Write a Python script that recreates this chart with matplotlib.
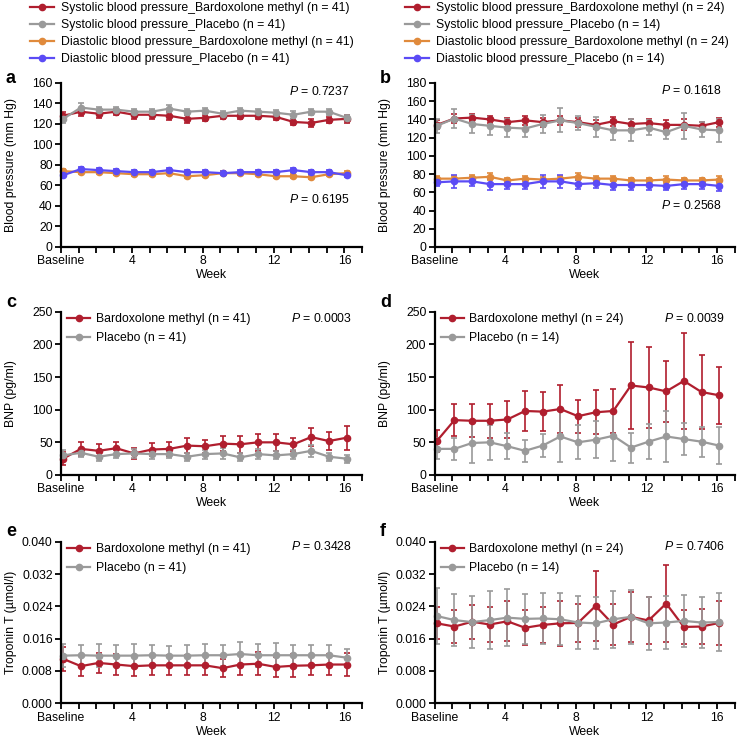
import matplotlib
matplotlib.use("Agg")
import matplotlib.pyplot as plt
from matplotlib.ticker import FixedLocator, MultipleLocator, FormatStrFormatter

plt.rcParams["font.family"] = ["Liberation Sans", "DejaVu Sans"]
plt.rcParams["font.size"] = 8.8
plt.rcParams["mathtext.fontset"] = "custom"
plt.rcParams["mathtext.it"] = "Liberation Sans:italic"
plt.rcParams["mathtext.rm"] = "Liberation Sans"

# Weeks (baseline = 0)
weeks = list(range(17))
tick_weeks = [0, 4, 8, 12, 16]
tick_labels = ["Baseline", "4", "8", "12", "16"]

RED = "#b01e2e"
GRAY = "#9a9a9a"
ORANGE = "#e08a3c"
PURPLE = "#5b4bf5"

# Panel a: blood pressure, full population
a_sys_bard = [128, 132, 130, 132, 129, 129, 128, 125, 126, 128, 128, 128, 127, 122, 121, 124, 125]
a_sys_bard_err = [4, 4, 4, 3, 4, 4, 4, 4, 3, 3, 3, 3, 3, 3, 4, 3, 4]
a_sys_plac = [125, 136, 134, 134, 132, 132, 135, 132, 133, 130, 133, 132, 131, 129, 132, 132, 126]
a_sys_plac_err = [4, 4, 3, 3, 3, 3, 4, 3, 3, 3, 3, 3, 3, 4, 3, 3, 3]
a_dia_bard = [74, 73, 73, 72, 71, 71, 72, 69, 70, 72, 72, 71, 69, 69, 68, 71, 72]
a_dia_bard_err = [2, 2, 2, 2, 2, 2, 2, 2, 2, 2, 2, 2, 2, 2, 2, 2, 2]
a_dia_plac = [70, 76, 75, 74, 73, 73, 75, 73, 73, 72, 73, 73, 73, 75, 73, 73, 70]
a_dia_plac_err = [2, 2, 2, 2, 2, 2, 2, 2, 2, 2, 2, 2, 2, 2, 2, 2, 2]

# Panel b: blood pressure, subgroup
b_sys_bard = [134, 141, 142, 140, 137, 139, 137, 139, 137, 134, 138, 135, 136, 134, 134, 133, 137]
b_sys_bard_err = [5, 5, 4, 4, 5, 5, 5, 5, 5, 5, 5, 5, 5, 5, 6, 4, 5]
b_sys_plac = [133, 141, 135, 133, 131, 130, 135, 139, 136, 132, 128, 128, 131, 126, 133, 129, 128]
b_sys_plac_err = [8, 10, 10, 10, 10, 9, 10, 13, 8, 11, 11, 12, 8, 8, 14, 8, 13]
b_dia_bard = [75, 75, 76, 77, 73, 75, 74, 75, 77, 75, 75, 73, 73, 74, 73, 73, 74]
b_dia_bard_err = [3, 3, 3, 4, 3, 3, 3, 3, 4, 3, 3, 3, 3, 4, 3, 3, 4]
b_dia_plac = [71, 72, 72, 69, 69, 69, 72, 72, 69, 70, 68, 68, 68, 67, 69, 69, 67]
b_dia_plac_err = [4, 7, 5, 6, 5, 5, 7, 7, 5, 5, 6, 6, 5, 5, 5, 5, 6]

# Panel c/d: BNP
c_bard = [25, 40, 37, 41, 33, 39, 40, 45, 44, 48, 47, 50, 50, 47, 58, 52, 57]
c_bard_err = [10, 11, 10, 10, 9, 10, 11, 12, 10, 12, 13, 13, 13, 10, 14, 14, 18]
c_plac = [30, 34, 28, 32, 33, 32, 32, 28, 32, 33, 27, 32, 30, 32, 37, 28, 25]
c_plac_err = [8, 6, 6, 6, 7, 7, 6, 6, 7, 8, 6, 8, 6, 7, 9, 6, 6]

d_bard = [52, 84, 83, 83, 85, 98, 97, 101, 90, 96, 98, 137, 134, 128, 144, 127, 122]
d_bard_err = [17, 24, 25, 26, 29, 30, 30, 37, 25, 34, 34, 66, 62, 47, 74, 57, 44]
d_plac = [40, 40, 49, 50, 44, 37, 45, 59, 50, 54, 60, 42, 51, 59, 55, 51, 45]
d_plac_err = [16, 17, 31, 27, 20, 17, 18, 39, 26, 28, 38, 23, 27, 39, 25, 23, 28]

# Panel e/f: Troponin T
e_bard = [0.0110, 0.0092, 0.0100, 0.0096, 0.0092, 0.0094, 0.0094, 0.0094, 0.0094, 0.0087,
          0.0096, 0.0098, 0.0090, 0.0093, 0.0094, 0.0096, 0.0096]
e_bard_err = [0.003, 0.0025, 0.0025, 0.0025, 0.0025, 0.0025, 0.0025, 0.0025, 0.0025, 0.0022,
              0.0025, 0.0028, 0.0025, 0.0028, 0.0025, 0.0025, 0.0028]
e_plac = [0.0118, 0.0119, 0.0118, 0.0118, 0.0118, 0.0119, 0.0118, 0.0118, 0.0119, 0.0119,
          0.0122, 0.0119, 0.0119, 0.0119, 0.0119, 0.0119, 0.0113]
e_plac_err = [0.0028, 0.0026, 0.0028, 0.0026, 0.0028, 0.0025, 0.0025, 0.0026, 0.0028, 0.0026,
              0.003, 0.0028, 0.003, 0.0026, 0.0026, 0.0026, 0.0022]

f_bard = [0.0198, 0.0190, 0.0202, 0.0195, 0.0203, 0.0187, 0.0194, 0.0198, 0.0199, 0.0241,
          0.0195, 0.0214, 0.0205, 0.0247, 0.0189, 0.0190, 0.0199]
f_bard_err = [0.0040, 0.0040, 0.0042, 0.0043, 0.0049, 0.0043, 0.0045, 0.0056, 0.0047, 0.0087,
              0.0050, 0.0062, 0.0057, 0.0095, 0.0042, 0.0044, 0.0054]
f_plac = [0.0216, 0.0206, 0.0201, 0.0206, 0.0212, 0.0209, 0.0210, 0.0208, 0.0200, 0.0198,
          0.0208, 0.0214, 0.0198, 0.0200, 0.0204, 0.0200, 0.0201]
f_plac_err = [0.0070, 0.0065, 0.0065, 0.0072, 0.0070, 0.0062, 0.0064, 0.0064, 0.0066, 0.0064,
              0.0070, 0.0067, 0.0066, 0.0066, 0.0064, 0.0062, 0.0072]

x = [w + 0.12 for w in weeks]


def series(ax, y, err, color, label):
    cont = ax.errorbar(x, y, yerr=err, color=color, marker="o", markersize=4.5,
                       linewidth=1.6, elinewidth=1.2, capsize=2.2, capthick=1.2,
                       clip_on=False)
    # legend shows only line + marker
    cont[0].set_label(label)
    return cont[0]


def style(ax, ymax, ystep, ylabel):
    ax.set_xlim(0, 17)
    ax.set_ylim(0, ymax)
    ax.spines["top"].set_visible(False)
    ax.spines["right"].set_visible(False)
    ax.spines["left"].set_linewidth(1.6)
    ax.spines["bottom"].set_linewidth(1.6)
    ax.xaxis.set_major_locator(FixedLocator(tick_weeks))
    ax.set_xticklabels(tick_labels)
    ax.xaxis.set_minor_locator(FixedLocator(list(range(18))))
    ax.yaxis.set_major_locator(MultipleLocator(ystep))
    ax.tick_params(which="both", direction="out", width=1.3, length=4.5, pad=1.5)
    ax.set_xlabel("Week", labelpad=1.5)
    ax.set_ylabel(ylabel)
    ax.yaxis.set_label_coords(-0.145, 0.5)


fig = plt.figure(figsize=(7.38, 7.37), dpi=100)

ax_a = fig.add_axes([0.0827, 0.6649, 0.408, 0.2225])
ax_b = fig.add_axes([0.589, 0.6649, 0.4065, 0.2225])
ax_c = fig.add_axes([0.0827, 0.3555, 0.408, 0.2216])
ax_d = fig.add_axes([0.589, 0.3555, 0.4065, 0.2216])
ax_e = fig.add_axes([0.0827, 0.0457, 0.408, 0.2193])
ax_f = fig.add_axes([0.589, 0.0457, 0.4065, 0.2193])

# a
h = [series(ax_a, a_sys_bard, a_sys_bard_err, RED, "Systolic blood pressure_Bardoxolone methyl (n = 41)"),
     series(ax_a, a_sys_plac, a_sys_plac_err, GRAY, "Systolic blood pressure_Placebo (n = 41)"),
     series(ax_a, a_dia_bard, a_dia_bard_err, ORANGE, "Diastolic blood pressure_Bardoxolone methyl (n = 41)"),
     series(ax_a, a_dia_plac, a_dia_plac_err, PURPLE, "Diastolic blood pressure_Placebo (n = 41)")]
style(ax_a, 160, 20, "Blood pressure (mm Hg)")
ax_a.text(16.3, 152, "$P$ = 0.7237", ha="right", va="center")
ax_a.text(16.3, 46, "$P$ = 0.6195", ha="right", va="center")
ax_a.legend(handles=h, loc="upper left", bbox_to_anchor=(30 / 738, 0.9975),
            bbox_transform=fig.transFigure, frameon=False,
            handlelength=2.0, handletextpad=0.5, labelspacing=0.42,
            borderaxespad=0, borderpad=0)

# b
h = [series(ax_b, b_sys_bard, b_sys_bard_err, RED, "Systolic blood pressure_Bardoxolone methyl (n = 24)"),
     series(ax_b, b_sys_plac, b_sys_plac_err, GRAY, "Systolic blood pressure_Placebo (n = 14)"),
     series(ax_b, b_dia_bard, b_dia_bard_err, ORANGE, "Diastolic blood pressure_Bardoxolone methyl (n = 24)"),
     series(ax_b, b_dia_plac, b_dia_plac_err, PURPLE, "Diastolic blood pressure_Placebo (n = 14)")]
style(ax_b, 180, 20, "Blood pressure (mm Hg)")
ax_b.text(16.3, 172, "$P$ = 0.1618", ha="right", va="center")
ax_b.text(16.3, 46, "$P$ = 0.2568", ha="right", va="center")
ax_b.legend(handles=h, loc="upper left", bbox_to_anchor=(405 / 738, 0.9975),
            bbox_transform=fig.transFigure, frameon=False,
            handlelength=2.0, handletextpad=0.5, labelspacing=0.42,
            borderaxespad=0, borderpad=0)

# c / d
for ax, yb, eb, yp, ep, nb, npl, p in [
        (ax_c, c_bard, c_bard_err, c_plac, c_plac_err, 41, 41, "0.0003"),
        (ax_d, d_bard, d_bard_err, d_plac, d_plac_err, 24, 14, "0.0039")]:
    h = [series(ax, yb, eb, RED, f"Bardoxolone methyl (n = {nb})"),
         series(ax, yp, ep, GRAY, f"Placebo (n = {npl})")]
    style(ax, 250, 50, "BNP (pg/ml)")
    ax.text(16.45, 239, f"$P$ = {p}", ha="right", va="center")
    ax.legend(handles=h, loc="upper left", bbox_to_anchor=(0.02, 0.99), frameon=False,
              handlelength=1.9, handletextpad=0.45, labelspacing=0.55,
              borderaxespad=0, borderpad=0)

# e / f
for ax, yb, eb, yp, ep, nb, npl, p in [
        (ax_e, e_bard, e_bard_err, e_plac, e_plac_err, 41, 41, "0.3428"),
        (ax_f, f_bard, f_bard_err, f_plac, f_plac_err, 24, 14, "0.7406")]:
    h = [series(ax, yb, eb, RED, f"Bardoxolone methyl (n = {nb})"),
         series(ax, yp, ep, GRAY, f"Placebo (n = {npl})")]
    style(ax, 0.040, 0.008, "Troponin T (\u00b5mol/l)")
    ax.yaxis.set_major_formatter(FormatStrFormatter("%.3f"))
    ax.text(16.45, 0.0387, f"$P$ = {p}", ha="right", va="center")
    ax.legend(handles=h, loc="upper left", bbox_to_anchor=(0.02, 0.99), frameon=False,
              handlelength=1.9, handletextpad=0.45, labelspacing=0.55,
              borderaxespad=0, borderpad=0)

# Panel letters
for lab, px, py in [("a", 0.008, 0.894), ("b", 0.515, 0.894),
                    ("c", 0.008, 0.589), ("d", 0.515, 0.589),
                    ("e", 0.008, 0.279), ("f", 0.515, 0.279)]:
    fig.text(px, py, lab, fontsize=13, fontweight="bold", va="center")

fig.savefig("out.png", dpi=100)
